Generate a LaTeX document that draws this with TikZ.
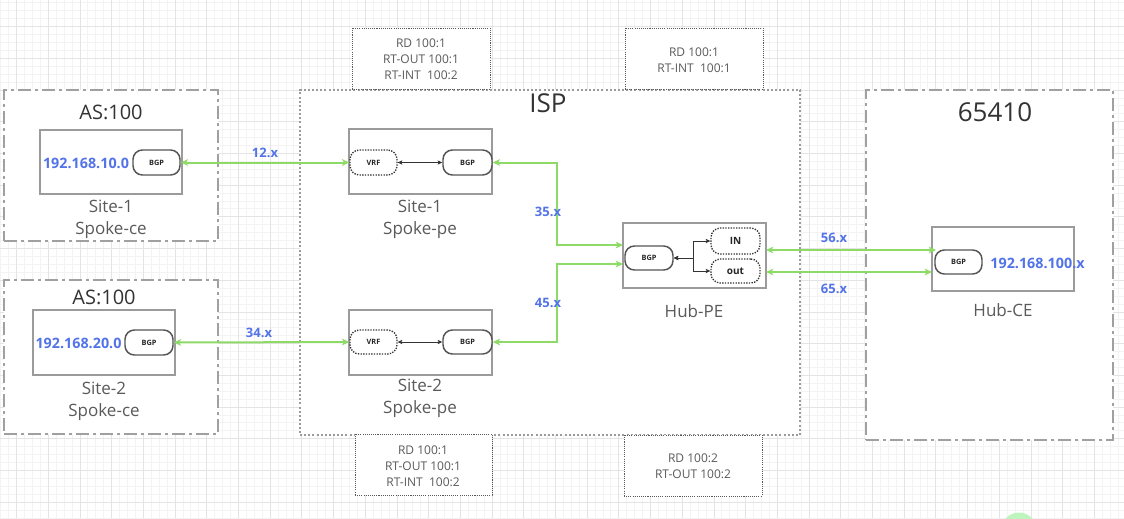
\documentclass[tikz,border=0pt]{standalone}
\usepackage{fontspec}
\setmainfont{Open Sans}
\usetikzlibrary{arrows.meta,fit}
\definecolor{gl}{RGB}{141,218,103}
\definecolor{ipb}{RGB}{83,115,232}
\definecolor{lblc}{RGB}{90,90,90}
\definecolor{ttl}{RGB}{51,51,51}
\definecolor{gminc}{RGB}{243,243,243}
\definecolor{gmajc}{RGB}{228,228,228}
\definecolor{boxc}{RGB}{155,155,155}
\definecolor{ddc}{RGB}{160,160,160}
\definecolor{pillc}{RGB}{85,85,85}
\definecolor{circc}{RGB}{190,245,190}
\newcommand\fs[2]{\fontsize{#1}{#2}\selectfont}
\tikzset{
 outerdd/.style={draw=ddc, line width=2pt, dash pattern=on 10pt off 3pt on 2pt off 3pt, fill=white, inner sep=0pt},
 ispbox/.style={draw=boxc, line width=1.5pt, dash pattern=on 1.5pt off 1.6pt, fill=white, inner sep=0pt},
 rdbox/.style={draw=black!65, line width=0.7pt, dash pattern=on 0.8pt off 0.8pt, fill=white, inner sep=0pt},
 rdtext/.style={align=center, text=lblc, font=\fs{9}{12}},
 devbox/.style={draw=boxc, line width=1pt, fill=white, inner sep=0pt},
 pill/.style={draw=pillc, line width=1.1pt, rounded corners=7pt, fill=white, inner sep=0pt},
 dpill/.style={draw=black!80, line width=1pt, dash pattern=on 1pt off 1pt, rounded corners=7pt, fill=white, inner sep=0pt},
 tiny/.style={font=\fs{5.5}{6}\bfseries, text=black!85},
 small/.style={font=\fs{7.5}{8}\bfseries, text=black!85},
 devlbl/.style={align=center, text=lblc, font=\fs{12.75}{16.5}},
 title/.style={text=ttl, font=\fs{15}{17}},
 bigtitle/.style={text=ttl, font=\fs{19.5}{22}},
 iptxt/.style={text=ipb, font=\fs{10.75}{12}\bfseries},
 linklbl/.style={text=ipb, font=\fs{9.75}{11}\bfseries},
 glink/.style={draw=gl, line width=1.5pt, {Stealth[length=5.5pt,width=5pt,inset=1.5pt]}-{Stealth[length=5.5pt,width=5pt,inset=1.5pt]}},
 blink/.style={draw=black!80, line width=0.6pt, {Stealth[length=3.5pt,width=3.2pt,inset=0.8pt]}-{Stealth[length=3.5pt,width=3.2pt,inset=0.8pt]}},
}
\begin{document}
\begin{tikzpicture}[x=0.75pt,y=-0.75pt]
\useasboundingbox (0,0) rectangle (1124,518);
\fill[white] (0,0) rectangle (1124,518);
\begin{scope}
\clip (0,0) rectangle (1124,518);
\foreach \i in {0,...,143} \draw[gminc, line width=0.75pt] ({-15.1+7.925*\i},0) -- ++(0,518);
\foreach \j in {0,...,66} \draw[gminc, line width=0.75pt] (0,{-5+7.925*\j}) -- ++(1124,0);
\foreach \i in {0,...,36} \draw[gmajc, line width=0.75pt] ({-15.1+31.7*\i},0) -- ++(0,518);
\foreach \j in {0,...,17} \draw[gmajc, line width=0.75pt] (0,{-5+31.7*\j}) -- ++(1124,0);
\fill[circc] (1019,530) circle [radius=17.5];
\end{scope}

% outer areas
\node[outerdd, fit={(4,90)(218,241)}] (as1) {};
\node[outerdd, fit={(4,280)(218,434)}] (as2) {};
\node[ispbox, fit={(300,90)(800,435)}] (isp) {};
\node[outerdd, fit={(866,90)(1113,440)}] (as3) {};

% RD boxes
\node[rdbox, fit={(352,28)(490,89)}] (rd1) {};
\node[rdtext] at (421,59) {RD 100:1\\RT-OUT 100:1\\RT-INT\ \ 100:2};
\node[rdbox, fit={(355,434)(492,495)}] (rd2) {};
\node[rdtext] at (423,466) {RD 100:1\\RT-OUT 100:1\\RT-INT\ \ 100:2};
\node[rdbox, fit={(625,28)(763,89)}] (rd3) {};
\node[rdtext] at (694,60) {RD 100:1\\RT-INT\ \ 100:1};
\node[rdbox, fit={(624,435)(762,496)}] (rd4) {};
\node[rdtext] at (693,466) {RD 100:2\\RT-OUT 100:2};

% titles
\node[title] (as1t) at (111,112) {AS:100};
\node[title] (as2t) at (104,297) {AS:100};
\node[bigtitle] (ispt) at (548,103) {ISP};
\node[bigtitle] (as3t) at (995,112) {65410};

% Site-1 Spoke-ce
\node[devbox, fit={(40,130)(182,194)}] (s1ce) {};
\node[iptxt] (s1ip) at (86,163) {192.168.10.0};
\node[pill, fit={(133,150)(180,175)}, label={[tiny]center:BGP}] (s1cebgp) {};
\node[devlbl] (s1cel) at (111,219) {Site-1\\Spoke-ce};

% Site-2 Spoke-ce
\node[devbox, fit={(33,310)(175,375)}] (s2ce) {};
\node[iptxt] (s2ip) at (78.5,343) {192.168.20.0};
\node[pill, fit={(125,330)(173,355)}, label={[tiny]center:BGP}] (s2cebgp) {};
\node[devlbl] (s2cel) at (104,401) {Site-2\\Spoke-ce};

% Site-1 Spoke-pe
\node[devbox, fit={(349,129)(492,194)}] (s1pe) {};
\node[dpill, fit={(350,150)(397,175)}, label={[tiny]center:VRF}] (s1vrf) {};
\node[pill, fit={(443,150)(492,175)}, label={[tiny]center:BGP}] (s1pebgp) {};
\node[devlbl] (s1pel) at (420,219) {Site-1\\Spoke-pe};

% Site-2 Spoke-pe
\node[devbox, fit={(349,310)(492,375)}] (s2pe) {};
\node[dpill, fit={(350,330)(397,354)}, label={[tiny]center:VRF}] (s2vrf) {};
\node[pill, fit={(443,330)(492,354)}, label={[tiny]center:BGP}] (s2pebgp) {};
\node[devlbl] (s2pel) at (420,398) {Site-2\\Spoke-pe};

% Hub-PE
\node[devbox, fit={(623,223)(766,288)}] (hpe) {};
\node[pill, fit={(625,246)(673,270)}, label={[tiny]center:BGP}] (hpbgp) {};
\node[dpill, fit={(711,228)(760,254)}, label={[small]center:IN}] (hpin) {};
\node[dpill, fit={(711,259)(760,283)}, label={[small]center:out}] (hpout) {};
\node[devlbl] (hpel) at (694,311) {Hub-PE};

% Hub-CE
\node[devbox, fit={(932,227)(1074,291)}] (hce) {};
\node[pill, fit={(935,250)(982,274)}, label={[tiny]center:BGP}] (hcebgp) {};
\node[iptxt] (hceip) at (1037.5,263) {192.168.100.x};
\node[devlbl] (hcel) at (1003,310) {Hub-CE};

% internal links
\draw[blink] (s1vrf.east) -- (s1pebgp.west);
\draw[blink] (s2vrf.east) -- (s2pebgp.west);
\draw[blink] (hpbgp.east) -- (693,258) |- (hpin.west);
\draw[blink] (hpbgp.east) -- (693,258) |- (hpout.west);

% green links
\coordinate (hin1) at (623,245);
\coordinate (hin2) at (623,264);
\coordinate (hout1) at (766,250);
\coordinate (hout2) at (766,272);
\coordinate (cein1) at (936,250);
\coordinate (cein2) at (932,272);
\draw[glink] (s1cebgp.east) -- (s1vrf.west);
\draw[glink] (s2cebgp.east) -- (s2vrf.west);
\draw[glink] (s1pebgp.east) -| (557,245) -- (hin1);
\draw[glink] (s2pebgp.east) -| (557,264) -- (hin2);
\draw[glink] (hout1) -- (cein1);
\draw[glink] (hout2) -- (cein2);

% link labels
\node[linklbl] at (265,153) {12.x};
\node[linklbl] at (259,333) {34.x};
\node[linklbl] at (548,212) {35.x};
\node[linklbl] at (548,303) {45.x};
\node[linklbl] at (834,238) {56.x};
\node[linklbl] at (834,289) {65.x};
\end{tikzpicture}
\end{document}
